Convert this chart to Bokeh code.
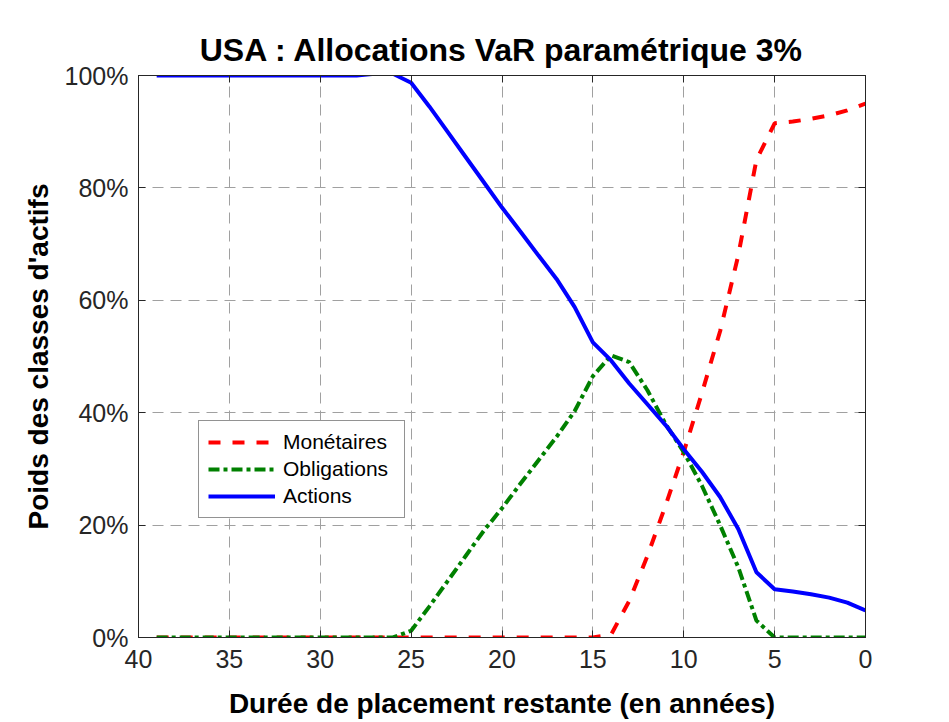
from bokeh.plotting import figure
from bokeh.models import (Range1d, LinearAxis, PrintfTickFormatter, FixedTicker,
                          Legend, LegendItem, ColumnDataSource)
from bokeh.embed import file_html
from bokeh.resources import INLINE

# ---- data ----
years = list(range(39, -1, -1))  # remaining years, 39 ... 0

monetaires = [0.0] * 25 + [0.5, 6.5, 14.5, 23.5, 33.0, 43.5, 54.5, 68.0, 85.0,
                           91.5, 91.8, 92.3, 92.9, 93.8, 95.0]
obligations = [0.0] * 14 + [1.2, 5.5, 10.0, 14.5, 19.0, 23.0, 27.3, 31.5, 35.7,
                            40.3, 46.5, 50.2, 49.0, 44.0, 38.0, 33.0, 27.0, 20.0,
                            12.5, 3.0, 0.0, 0.0, 0.0, 0.0, 0.0, 0.0]
actions = [100.0] * 12 + [100.3, 100.3, 98.7, 94.5, 90.0, 85.5, 81.0, 76.5, 72.3,
                          68.0, 63.8, 58.8, 52.5, 49.3, 45.2, 41.5, 37.8, 33.5,
                          29.5, 25.0, 19.3, 11.6, 8.6, 8.2, 7.7, 7.1, 6.2, 4.8]

series_names = ["Monétaires", "Obligations", "Actions"]
x_ticks = [0, 5, 10, 15, 20, 25, 30, 35, 40]
y_ticks = [0, 20, 40, 60, 80, 100]

title_text = "USA : Allocations VaR paramétrique 3%"
x_label = "Durée de placement restante (en années)"
y_label = "Poids des classes d'actifs"

FONT = "Liberation Sans"
AX = "#262626"

src = ColumnDataSource(dict(x=years, m=monetaires, o=obligations, a=actions))

p = figure(width=940, height=721, x_range=Range1d(40, 0), y_range=Range1d(0, 100),
           output_backend="svg", toolbar_location=None,
           min_border_left=138, min_border_right=75, min_border_top=75,
           min_border_bottom=82)

p.title.text = title_text
p.title.align = "center"
p.title.text_font = FONT
p.title.text_font_size = "32px"
p.title.text_font_style = "bold"
p.title.text_color = "#000000"
p.title.standoff = 16

p.outline_line_color = AX
p.outline_line_width = 1

# main axes
for ax in (p.xaxis[0], p.yaxis[0]):
    ax.axis_line_color = AX
    ax.major_tick_line_color = AX
    ax.major_tick_in = 7
    ax.major_tick_out = 0
    ax.minor_tick_line_color = None
    ax.major_label_text_font = FONT
    ax.major_label_text_font_size = "25px"
    ax.major_label_text_color = AX
    ax.axis_label_text_font = FONT
    ax.axis_label_text_font_size = "28px"
    ax.axis_label_text_font_style = "bold"
    ax.axis_label_text_color = "#000000"

p.xaxis[0].ticker = FixedTicker(ticks=x_ticks)
p.yaxis[0].ticker = FixedTicker(ticks=y_ticks)
p.yaxis[0].formatter = PrintfTickFormatter(format="%d%%")
p.xaxis[0].axis_label = x_label
p.yaxis[0].axis_label = y_label
p.xaxis[0].major_label_standoff = 12
p.xaxis[0].axis_label_standoff = 17
p.yaxis[0].major_label_standoff = 10
p.yaxis[0].axis_label_standoff = 8

# box ticks on top and right (no labels drawn)
top = LinearAxis(ticker=FixedTicker(ticks=x_ticks))
right = LinearAxis(ticker=FixedTicker(ticks=y_ticks))
for ax in (top, right):
    ax.axis_line_color = AX
    ax.major_tick_line_color = AX
    ax.major_tick_in = 7
    ax.major_tick_out = 0
    ax.minor_tick_line_color = None
    ax.major_label_text_font_size = "1px"
    ax.major_label_text_color = None
    ax.major_label_standoff = 0
p.add_layout(top, "above")
p.add_layout(right, "right")

# grid
p.xgrid[0].ticker = FixedTicker(ticks=x_ticks)
p.ygrid[0].ticker = FixedTicker(ticks=y_ticks)
for g in (p.xgrid[0], p.ygrid[0]):
    g.grid_line_color = "#a0a0a0"
    g.grid_line_dash = "11 7"
    g.grid_line_width = 1

r_m = p.line("x", "m", source=src, line_color="#ff0000", line_width=4, line_dash="12 12")
r_o = p.line("x", "o", source=src, line_color="#008000", line_width=4, line_dash="11 4 4 4")
r_a = p.line("x", "a", source=src, line_color="#0000ff", line_width=4)

legend = Legend(items=[LegendItem(label=series_names[0], renderers=[r_m]),
                       LegendItem(label=series_names[1], renderers=[r_o]),
                       LegendItem(label=series_names[2], renderers=[r_a])],
                location=(60, 119))
legend.label_text_font = FONT
legend.label_text_font_size = "21px"
legend.label_text_color = "#000000"
legend.border_line_color = AX
legend.border_line_width = 1
legend.background_fill_color = "white"
legend.background_fill_alpha = 1
legend.glyph_width = 67
legend.glyph_height = 22
legend.label_height = 22
legend.label_width = 112
legend.spacing = 3
legend.padding = 9
legend.margin = 0
legend.label_standoff = 8
p.add_layout(legend, "center")

open("out.html", "w").write(file_html(p, INLINE))
